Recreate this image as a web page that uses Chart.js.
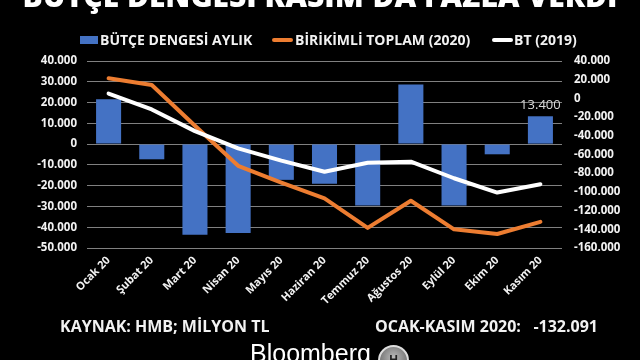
<!DOCTYPE html>
<html>
<head>
<meta charset="utf-8">
<script src="https://cdn.jsdelivr.net/npm/chart.js@4/dist/chart.umd.min.js"></script>
<style>
  html,body{margin:0;padding:0;background:#000;width:640px;height:360px;overflow:hidden;}
  #wrap{position:relative;width:640px;height:360px;background:#000;font-family:"Open Sans",sans-serif;color:#fff;}
  canvas{position:absolute;left:0;top:0;}
  .t{position:absolute;white-space:pre;font-weight:700;}
  #title{left:0;width:640px;text-align:center;top:-22px;font-size:30px;line-height:36px;font-weight:800;}
  .leg{top:31px;font-size:14px;line-height:18px;color:#f2f2f2;}
  .sw{position:absolute;}
  .foot{top:316px;font-size:16px;line-height:20px;color:#f2f2f2;}
  #bb{position:absolute;left:250px;top:338px;font-family:"Liberation Sans",Arial,sans-serif;font-size:25px;line-height:30px;color:#fff;}
  #logo{position:absolute;left:378px;top:345px;width:31px;height:31px;border-radius:50%;background:radial-gradient(circle at 50% 40%,#bbb,#555);border:2px solid #ddd;box-sizing:border-box;text-align:center;font:bold 12px "Liberation Sans",Arial,sans-serif;line-height:27px;color:#222;}
</style>
</head>
<body>
<div id="wrap">
  <canvas id="c" width="640" height="360"></canvas>
  <div class="t" id="title">BÜTÇE DENGESİ KASIM'DA FAZLA VERDİ</div>
  <div class="sw" style="left:80px;top:36px;width:18px;height:8px;background:#4472C4;"></div>
  <div class="t leg" style="left:100px;">BÜTÇE DENGESİ AYLIK</div>
  <div class="sw" style="left:272px;top:38px;width:21px;height:4px;border-radius:2px;background:#ED7D31;"></div>
  <div class="t leg" style="left:295px;">BİRİKİMLİ TOPLAM (2020)</div>
  <div class="sw" style="left:492px;top:38px;width:21px;height:4px;border-radius:2px;background:#fff;"></div>
  <div class="t leg" style="left:514px;">BT (2019)</div>
  <div class="t foot" style="left:60px;">KAYNAK: HMB; MİLYON TL</div>
  <div class="t foot" style="left:375px;">OCAK-KASIM 2020:   -132.091</div>
  <div id="bb">Bloomberg</div>
  <div id="logo">H</div>
</div>
<script>
const categories = ['Ocak 20','Şubat 20','Mart 20','Nisan 20','Mayıs 20','Haziran 20','Temmuz 20','Ağustos 20','Eylül 20','Ekim 20','Kasım 20'];
const monthlyBalance = [21600, -7300, -43600, -42800, -17200, -19100, -29500, 28700, -29500, -4900, 13400];
const cumulative2020 = [21600, 14300, -29300, -72100, -90000, -107000, -138500, -109500, -140000, -145000, -132091];
const cumulative2019 = [5200, -11800, -35000, -53400, -66500, -78500, -68800, -67700, -85400, -100700, -91800];
const leftTicks = {min: -50000, max: 40000, step: 10000};
const rightTicks = {min: -160000, max: 40000, step: 20000};
const labelIndex = 10;

function fmt(v){
  const s = Math.abs(Math.round(v)).toString().replace(/\B(?=(\d{3})+(?!\d))/g, '.');
  return (v < 0 ? '-' : '') + s;
}

const labelPlugin = {
  id: 'barLabel',
  afterDatasetsDraw(chart){
    const meta = chart.getDatasetMeta(0);
    const el = meta.data[labelIndex];
    const ctx = chart.ctx;
    ctx.save();
    ctx.fillStyle = '#d9d9d9';
    ctx.font = '13px "Open Sans", sans-serif';
    ctx.textAlign = 'center';
    ctx.textBaseline = 'bottom';
    ctx.fillText(fmt(monthlyBalance[labelIndex]), el.x, el.y - 4);
    ctx.restore();
  }
};

const yFont = {family: '"Open Sans", sans-serif', size: 11.5, weight: 'bold'};
const xFont = {family: '"Open Sans", sans-serif', size: 11, weight: 'bold'};

new Chart(document.getElementById('c'), {
  data: {
    labels: categories,
    datasets: [
      {type: 'bar', label: 'BÜTÇE DENGESİ AYLIK', data: monthlyBalance, backgroundColor: '#4472C4',
       yAxisID: 'y', barPercentage: 0.58, categoryPercentage: 1, order: 3},
      {type: 'line', label: 'BİRİKİMLİ TOPLAM (2020)', data: cumulative2020, borderColor: '#ED7D31',
       borderWidth: 4, pointRadius: 0, tension: 0, yAxisID: 'y1', borderCapStyle: 'round', borderJoinStyle: 'round', order: 2},
      {type: 'line', label: 'BT (2019)', data: cumulative2019, borderColor: '#FFFFFF',
       borderWidth: 4, pointRadius: 0, tension: 0, yAxisID: 'y1', borderCapStyle: 'round', borderJoinStyle: 'round', order: 1}
    ]
  },
  options: {
    responsive: false,
    animation: false,
    devicePixelRatio: 1,
    layout: {padding: {top: 61, left: 0, right: 0, bottom: 0}},
    plugins: {legend: {display: false}, tooltip: {enabled: false}},
    scales: {
      x: {
        grid: {display: false, drawTicks: false},
        border: {display: false},
        ticks: {color: '#f2f2f2', font: xFont, maxRotation: 45, minRotation: 45, padding: 6, autoSkip: false},
        afterFit(s){ s.height = 112; }
      },
      y: {
        position: 'left',
        min: leftTicks.min, max: leftTicks.max,
        grid: {color: '#808080', lineWidth: 1, drawTicks: false},
        border: {display: false},
        ticks: {stepSize: leftTicks.step, color: '#f2f2f2', font: yFont, padding: 10, callback: v => fmt(v)},
        afterFit(s){ s.width = 87; }
      },
      y1: {
        position: 'right',
        min: rightTicks.min, max: rightTicks.max,
        grid: {display: false, drawTicks: false},
        border: {display: false},
        ticks: {stepSize: rightTicks.step, color: '#f2f2f2', font: yFont, padding: 12, callback: v => fmt(v)},
        afterFit(s){ s.width = 78; }
      }
    }
  },
  plugins: [labelPlugin]
});
</script>
</body>
</html>
